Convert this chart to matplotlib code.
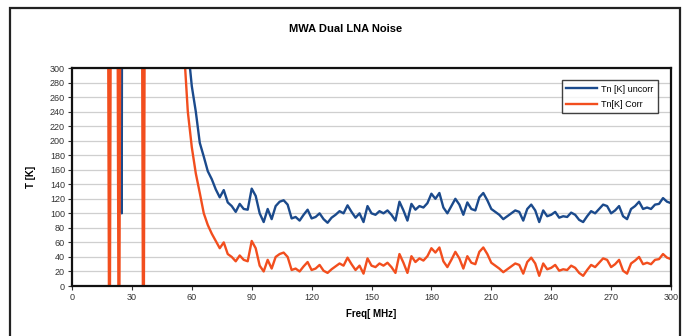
import numpy as np
import matplotlib.pyplot as plt
from matplotlib.patches import Rectangle

plt.rcParams['font.family'] = ['Liberation Sans', 'DejaVu Sans']

# low-frequency part (off-scale values, with the dips that show as bars)
freq_low = [10, 17.75, 18.75, 19.75, 22.5, 23.5, 24.5, 24.9, 25.3, 34.75, 35.75, 36.75, 45, 54]
uncorr_low = [900, 900, 900, 900, 900, 900, 900, 100, 900, 900, 900, 900, 800, 520]
corr_low = [700, 700, -250, 700, 700, -250, 700, 700, 700, 700, -250, 700, 650, 420]

# 56 .. 300 MHz, 2 MHz steps
freq_main = np.arange(56, 301, 2)
uncorr_main = [
    420, 330, 275, 240, 197, 178, 158, 147, 133, 122,
    132, 115, 110, 102, 113, 106, 105, 134, 124, 100,
    88, 106, 92, 110, 116, 118, 112, 93, 95, 90,
    98, 105, 93, 95, 100, 92, 87, 94, 98, 103,
    100, 111, 102, 94, 100, 88, 110, 100, 98, 103,
    100, 104, 98, 90, 116, 104, 90, 113, 105, 110,
    108, 114, 127, 120, 128, 108, 100, 110, 120, 112,
    98, 115, 106, 104, 122, 128, 118, 106, 102, 98,
    92, 96, 100, 104, 102, 90, 106, 112, 104, 88,
    104, 96, 98, 102, 94, 96, 95, 101, 98, 91,
    88, 96, 103, 100, 106, 112, 110, 100, 104, 110,
    96, 92, 106, 110, 116, 106, 108, 106, 112, 113,
    121, 116, 114,
]
corr_main = [
    330, 240, 191, 155, 128, 100, 84, 72, 62, 52,
    60, 44, 40, 34, 42, 36, 34, 62, 52, 28,
    20, 36, 24, 40, 44, 46, 40, 22, 24, 20,
    27, 33, 22, 24, 29, 21, 18, 23, 27, 31,
    28, 39, 30, 22, 28, 17, 38, 28, 26, 31,
    28, 32, 26, 18, 44, 32, 18, 41, 33, 38,
    35, 41, 52, 46, 53, 34, 26, 36, 47, 38,
    24, 41, 32, 30, 47, 53, 44, 32, 28, 24,
    19, 23, 27, 31, 29, 17, 33, 39, 31, 14,
    31, 23, 25, 29, 21, 23, 22, 28, 25, 18,
    14, 22, 29, 26, 32, 38, 36, 26, 30, 36,
    21, 17, 31, 35, 40, 30, 32, 30, 36, 37,
    44, 39, 37,
]

freq = np.concatenate([freq_low, freq_main])
tn_uncorr = np.concatenate([uncorr_low, uncorr_main])
tn_corr = np.concatenate([corr_low, corr_main])

W, H = 686, 336
fig = plt.figure(figsize=(W / 100, H / 100), dpi=100)

# outer chart frame
fig.patches.append(Rectangle((10 / W, -0.05), 670 / W, 1.05 - 8 / H,
                             transform=fig.transFigure, fill=False,
                             edgecolor='#222222', linewidth=1.6))

ax = fig.add_axes([72 / W, 1 - 286 / H, (671 - 72) / W, (286 - 68) / H])

ax.plot(freq, tn_uncorr, color='#1B4A8C', linewidth=1.7, label='Tn [K] uncorr')
ax.plot(freq, tn_corr, color='#F24E1E', linewidth=1.7, label='Tn[K] Corr')

ax.set_xlim(0, 300)
ax.set_ylim(0, 300)
ax.set_xticks(np.arange(0, 301, 30))
ax.set_yticks(np.arange(0, 301, 20))
ax.yaxis.grid(True, color='#cfcfcf', linewidth=0.9)
ax.set_axisbelow(True)
ax.tick_params(labelsize=6.5, colors='#333333', length=3, width=0.8, pad=2)
for s in ax.spines.values():
    s.set_linewidth(1.6)
    s.set_color('#111111')

ax.set_xlabel('Freq[ MHz]', fontsize=7, fontweight='bold', labelpad=5)
ax.set_ylabel('T [K]', fontsize=7, fontweight='bold', labelpad=10)
fig.text(346 / W, 1 - 29 / H, 'MWA Dual LNA Noise', ha='center', va='center',
         fontsize=8, fontweight='bold')

leg = ax.legend(loc='upper right', bbox_to_anchor=(0.985, 0.965), fontsize=6.5,
                frameon=True, fancybox=False, handlelength=3.4, borderpad=0.5,
                labelspacing=0.7, handletextpad=0.4)
leg.get_frame().set_edgecolor('#111111')
leg.get_frame().set_linewidth(1.0)

plt.savefig('out.png', dpi=100)
